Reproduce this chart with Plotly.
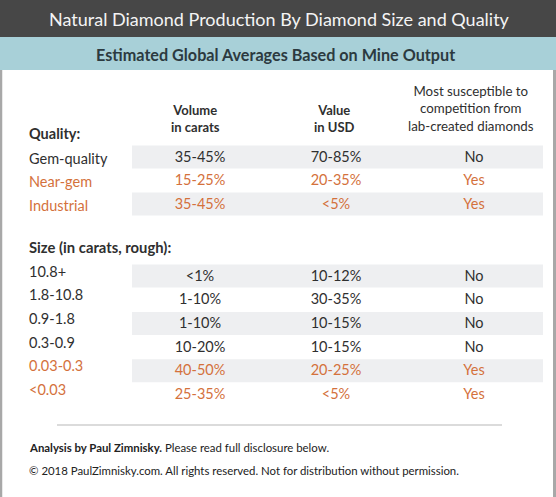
import plotly.graph_objects as go

# ---- data ----
title = "Natural Diamond Production By Diamond Size and Quality"
subtitle = "Estimated Global Averages Based on Mine Output"
col_headers = ["Volume<br>in carats", "Value<br>in USD", "Most susceptible to<br>competition from<br>lab-created diamonds"]

quality_labels = ["Gem-quality", "Near-gem", "Industrial"]
quality_volume = ["35-45%", "15-25%", "35-45%"]
quality_value = ["70-85%", "20-35%", "<5%"]
quality_susceptible = ["No", "Yes", "Yes"]

size_labels = ["10.8+", "1.8-10.8", "0.9-1.8", "0.3-0.9", "0.03-0.3", "<0.03"]
size_volume = ["<1%", "1-10%", "1-10%", "10-20%", "40-50%", "25-35%"]
size_value = ["10-12%", "30-35%", "10-15%", "10-15%", "20-25%", "<5%"]
size_susceptible = ["No", "No", "No", "No", "Yes", "Yes"]

footer1 = "<b>Analysis by Paul Zimnisky.</b> Please read full disclosure below."
footer2 = "© 2018 PaulZimnisky.com. All rights reserved. Not for distribution without permission."

# ---- style ----
W, H = 556, 497
FONT = "Lato"
DARK = "#2f2f2f"
ORANGE = "#d4713c"
BAND = "#eeeff1"
COLX = [200, 336, 474]
LABX = 27

fig = go.Figure()
shapes = []
ann = []

# header bands
shapes.append(dict(type="rect", x0=0, x1=W, y0=0, y1=37, fillcolor="#474747", line_width=0, layer="below"))
shapes.append(dict(type="rect", x0=0, x1=W, y0=37, y1=70, fillcolor="#a8d0d8", line_width=0, layer="below"))
# side borders
shapes.append(dict(type="line", x0=1, x1=1, y0=70, y1=H, line=dict(color="#a8a8a8", width=2.5)))
shapes.append(dict(type="line", x0=W - 1.5, x1=W - 1.5, y0=70, y1=H, line=dict(color="#a8a8a8", width=3)))
# separator
shapes.append(dict(type="line", x0=57, x1=502, y0=425, y1=425, line=dict(color="#cfcfcf", width=1.5)))

ann.append(dict(x=W / 2 + 1, y=19, text=title, font=dict(family=FONT, size=18, color="#f4f4f4")))
ann.append(dict(x=W / 2 - 3, y=54, text="<b>" + subtitle + "</b>", font=dict(family=FONT, size=16.2, color="#2c3a40")))

# column headers
ann.append(dict(x=COLX[0] - 5, y=118, text="<b>" + col_headers[0] + "</b>", font=dict(family=FONT, size=13, color=DARK)))
ann.append(dict(x=COLX[1] - 2, y=118, text="<b>" + col_headers[1] + "</b>", font=dict(family=FONT, size=13, color=DARK)))
ann.append(dict(x=COLX[2] - 3, y=108, text=col_headers[2], font=dict(family=FONT, size=13.3, color=DARK)))

ann.append(dict(x=LABX, y=133, text="<b>Quality:</b>", xanchor="left", font=dict(family=FONT, size=14.5, color=DARK)))
ann.append(dict(x=LABX, y=247, text="<b>Size (in carats, rough):</b>", xanchor="left", font=dict(family=FONT, size=14.8, color=DARK)))


def add_rows(labels, vol, val, sus, y0, step, label_dy, band_rows):
    for i in range(len(labels)):
        y = y0 + i * step
        color = ORANGE if sus[i] == "Yes" else DARK
        if i in band_rows:
            shapes.append(dict(type="rect", x0=132, x1=543, y0=y - 12.5, y1=y + 10.5,
                               fillcolor=BAND, line_width=0, layer="below"))
        ann.append(dict(x=LABX, y=y + label_dy, text=labels[i], xanchor="left",
                        font=dict(family=FONT, size=14.5, color=color)))
    fig.add_trace(go.Scatter(
        x=[COLX[0]] * len(vol) + [COLX[1]] * len(val) + [COLX[2]] * len(sus),
        y=[y0 + i * step for i in range(len(vol))] * 3,
        text=list(vol) + list(val) + list(sus),
        mode="text",
        textfont=dict(family=FONT, size=14.5,
                      color=[ORANGE if s == "Yes" else DARK for s in sus] * 3),
        hoverinfo="skip", showlegend=False))


add_rows(quality_labels, quality_volume, quality_value, quality_susceptible, 158, 23.5, 0, [0, 2])
add_rows(size_labels, size_volume, size_value, size_susceptible, 277, 23.7, -6, [0, 2, 4])

ann.append(dict(x=LABX, y=447, text=footer1, xanchor="left", font=dict(family=FONT, size=11.4, color="#222")))
ann.append(dict(x=LABX, y=470, text=footer2, xanchor="left", font=dict(family=FONT, size=11.4, color="#222")))

for a in ann:
    a.setdefault("showarrow", False)
    a.setdefault("xanchor", "center")
    a["yanchor"] = "middle"
    a["xref"] = "x"
    a["yref"] = "y"

fig.update_layout(
    width=W, height=H, margin=dict(l=0, r=0, t=0, b=0),
    paper_bgcolor="white", plot_bgcolor="white",
    xaxis=dict(range=[0, W], visible=False, fixedrange=True),
    yaxis=dict(range=[H, 0], visible=False, fixedrange=True),
    shapes=shapes, annotations=ann,
)
fig.write_html("out.html", config={"displayModeBar": False},
               post_script="document.body.style.margin='0px';document.body.style.overflow='hidden';")
